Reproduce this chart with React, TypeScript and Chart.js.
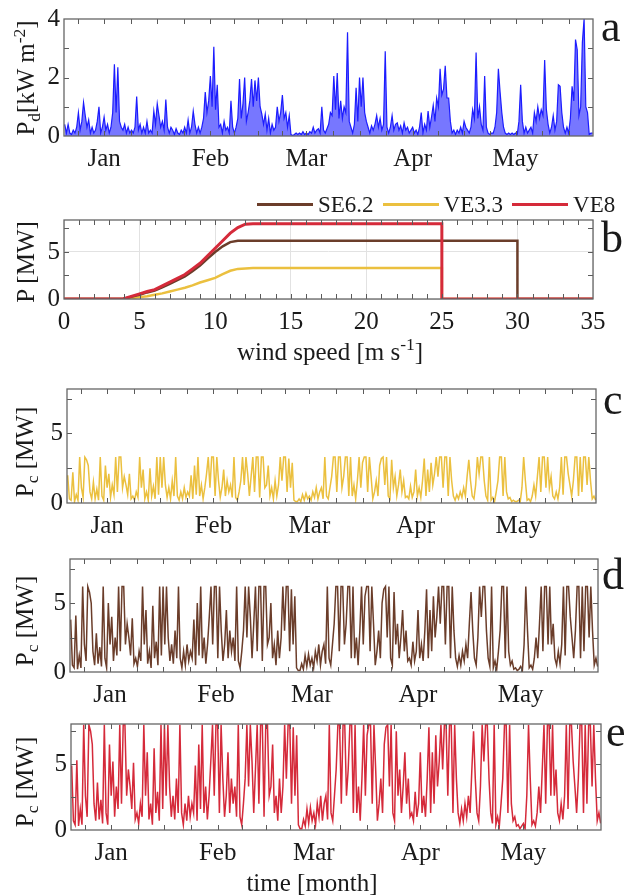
import React, { useEffect, useRef } from 'react';
import { Chart, registerables } from 'chart.js';

Chart.register(...registerables);

// ---------------- DATA ----------------
// time axis: days relative to 1 January, half-day resolution
const START_DAY = -11.5;
const STEP_DAY = 0.5;
const monthNames = ['Jan', 'Feb', 'Mar', 'Apr', 'May'];
const monthStarts = [0, 31, 59, 90, 120];
const monthEdges = [-31, 0, 31, 59, 90, 120, 151];

// panel a: wind power density Pd [kW m-2]
const pd = [
  0.4,0.1,0.4,0.1,0.05,0.2,0.1,0.3,0.8,0.2,0.5,1.15,0.7,0.3,0.55,0.1,0.3,0.1,0.2,0.5,
  1.0,0.1,0.3,0.65,0.2,0.4,0.1,0.3,0.8,2.45,0.8,2.35,0.5,0.3,0.2,0.4,0.1,0.3,0.1,0.2,
  0.1,0.3,1.35,0.2,0.4,0.1,0.3,0.1,0.5,0.1,0.2,0.1,0.85,0.4,1.1,0.7,0.3,0.5,0.2,1.25,
  0.3,0.1,0.3,0.2,0.05,0.25,0.1,0.05,0.2,0.1,0.3,0.1,0.55,0.1,0.3,0.85,0.4,0.1,0.3,0.1,
  0.3,0.6,1.5,0.8,1.2,2.05,1.0,3.05,0.9,1.75,0.3,0.4,0.1,0.5,0.2,0.3,0.1,1.2,0.3,0.1,
  0.3,0.6,1.95,0.6,1.1,2.0,0.5,0.8,1.2,1.95,1.0,1.9,1.2,2.0,1.0,0.75,0.4,0.75,0.2,0.6,
  0.1,0.4,0.2,0.3,1.0,0.5,0.8,1.4,0.6,0.8,0.3,0.7,0.05,0.02,0.05,0.1,0.05,0.1,0.05,0.15,
  0.05,0.1,0.05,0.15,0.1,0.3,0.1,0.2,0.25,0.1,1.0,0.2,0.1,0.25,0.4,0.8,0.7,2.05,0.9,2.15,
  0.6,1.2,0.6,1.0,0.8,3.55,0.5,0.3,0.1,0.4,1.65,0.5,2.0,1.0,2.0,0.8,0.5,0.3,0.1,0.35,
  0.2,0.4,0.7,0.3,0.6,0.2,0.4,2.9,0.3,0.1,0.3,0.7,0.2,0.4,0.45,0.2,0.35,0.1,0.45,0.2,
  0.3,0.1,0.2,0.3,0.1,0.2,0.05,0.3,0.8,0.1,0.4,0.2,0.85,0.3,0.65,1.05,0.5,1.3,1.0,2.3,
  1.4,1.6,2.4,1.3,1.3,0.5,0.1,0.2,0.05,0.2,0.1,0.3,0.1,0.5,0.3,0.2,0.1,0.3,0.9,0.6,
  2.85,0.6,1.0,0.4,0.2,2.05,0.3,0.1,0.05,0.1,0.1,0.3,0.8,2.3,1.5,0.8,0.3,0.1,0.05,0.1,
  0.05,0.1,0.05,0.1,0.05,0.5,1.75,0.5,0.1,0.3,0.1,0.2,0.3,0.1,0.8,0.5,1.0,0.6,0.9,0.7,
  2.6,0.9,0.4,0.1,0.3,0.7,0.2,0.5,1.75,1.7,0.8,0.3,0.1,0.3,0.1,0.6,1.7,1.2,3.3,2.95,
  0.7,1.0,3.2,4.0,1.0,0.8,0.05,0.1,0.1,
];

// panel c: VE3.3 power [MW]
const pcVE33 = [
  2.0,0.3,0.2,2.2,0.1,0.6,0.2,3.3,1.1,0.4,3.3,3.1,2.7,0.8,0.3,1.5,0.3,1.0,0.2,3.3,
  0.5,0.2,2.7,1.1,2.1,0.4,1.3,0.6,3.3,0.8,3.3,3.3,1.1,1.9,1.3,0.6,2.1,0.3,0.5,0.2,
  0.8,0.4,3.3,1.1,2.4,0.3,0.8,0.2,2.5,0.5,1.2,0.3,3.3,0.6,3.3,1.1,3.3,1.3,0.4,1.1,
  0.3,1.6,0.5,3.3,0.5,0.2,0.8,0.3,1.1,0.4,0.8,0.5,2.0,0.3,2.7,0.6,3.3,0.5,1.3,0.3,
  1.1,2.1,3.3,1.1,3.3,3.3,0.5,3.3,1.6,0.4,1.1,2.4,0.5,1.6,0.8,1.3,0.4,3.3,0.4,0.2,
  0.8,1.6,3.3,1.3,3.3,2.1,0.5,1.9,3.3,0.8,3.3,3.3,0.4,3.3,3.3,1.1,1.3,2.7,0.5,1.1,
  0.3,1.6,0.5,1.3,3.3,1.6,3.3,3.3,0.8,3.2,1.1,2.9,0.2,0.1,0.1,0.3,0.1,0.6,0.2,0.7,
  0.3,0.5,0.2,0.8,0.4,1.1,0.3,0.8,1.1,0.3,3.3,0.5,0.3,1.1,1.9,3.3,3.3,0.8,3.3,3.3,
  1.1,1.9,3.3,3.3,0.5,3.3,0.5,1.3,0.3,1.6,3.3,1.1,2.9,3.3,3.3,0.8,3.3,1.9,0.3,0.8,
  1.6,0.5,2.7,3.2,3.3,1.3,3.3,0.5,0.3,3.1,1.1,1.9,0.5,1.3,2.4,0.8,1.6,0.4,0.5,0.3,
  1.2,0.4,0.8,2.4,0.5,1.1,0.4,1.6,3.2,0.5,2.4,0.8,2.9,1.3,2.1,3.3,1.9,3.3,3.3,1.1,
  3.3,3.3,0.5,3.3,1.6,0.5,0.2,0.6,0.3,0.8,0.4,1.1,0.5,1.9,3.1,1.6,0.5,0.3,1.3,3.3,
  2.1,3.3,3.3,1.6,0.5,0.2,3.3,0.2,0.4,0.1,0.8,1.6,3.3,3.3,0.5,3.3,0.8,0.3,0.4,0.1,
  0.2,0.1,0.1,0.2,0.1,1.1,3.3,1.6,0.2,0.3,0.1,0.5,1.3,0.5,1.9,3.3,0.8,3.3,3.3,1.1,
  3.3,1.1,1.9,0.5,0.3,0.8,0.3,1.1,3.3,0.6,3.3,3.3,2.1,1.3,0.5,1.6,3.3,3.3,0.5,3.3,
  0.8,3.3,3.3,1.3,3.3,1.6,0.3,0.5,0.2,
];

// panel d: SE6.2 power [MW]
const pcSE62 = [
  3.8,0.5,0.3,4.1,0.2,1.2,0.3,6.2,2.0,0.8,6.2,5.8,5.0,1.5,0.5,2.8,0.6,1.8,0.4,6.2,
  1.0,0.3,5.0,2.0,4.0,0.8,2.5,1.2,6.2,1.5,6.2,6.2,2.0,3.5,2.5,1.2,3.9,0.6,1.0,0.4,
  1.5,0.8,6.2,2.0,4.5,0.6,1.5,0.3,4.8,1.0,2.2,0.5,6.2,1.2,6.2,2.0,6.2,2.5,0.8,2.0,
  0.6,3.0,1.0,6.2,1.0,0.3,1.5,0.5,2.0,0.8,1.5,1.0,3.8,0.5,5.0,1.2,6.2,1.0,2.5,0.6,
  2.0,4.0,6.2,2.0,6.2,6.2,1.0,6.2,3.0,0.8,2.0,4.5,1.0,3.0,1.5,2.5,0.8,6.2,0.8,0.3,
  1.5,3.0,6.2,2.5,6.2,4.0,1.0,3.5,6.2,1.5,6.2,6.2,0.8,6.2,6.2,2.0,2.5,5.0,1.0,2.0,
  0.5,3.0,1.0,2.5,6.2,3.0,6.2,6.2,1.5,6.0,2.0,5.5,0.3,0.1,0.1,0.6,0.2,1.2,0.4,1.3,
  0.5,1.0,0.3,1.5,0.8,2.0,0.5,1.5,2.0,0.6,6.2,1.0,0.5,2.0,3.5,6.2,6.2,1.5,6.2,6.2,
  2.0,3.5,6.2,6.2,1.0,6.2,1.0,2.5,0.5,3.0,6.2,2.0,5.5,6.2,6.2,1.5,6.2,3.5,0.5,1.5,
  3.0,1.0,5.0,6.0,6.2,2.5,6.2,1.0,0.5,5.8,2.0,3.5,1.0,2.5,4.5,1.5,3.0,0.8,1.0,0.5,
  2.2,0.8,1.5,4.5,1.0,2.0,0.8,3.0,6.0,1.0,4.5,1.5,5.5,2.5,4.0,6.2,3.5,6.2,6.2,2.0,
  6.2,6.2,1.0,6.2,3.0,1.0,0.4,1.2,0.5,1.5,0.8,2.0,1.0,3.5,5.8,3.0,1.0,0.5,2.5,6.2,
  4.0,6.2,6.2,3.0,1.0,0.4,6.2,0.3,0.8,0.2,1.5,3.0,6.2,6.2,1.0,6.2,1.5,0.5,0.8,0.2,
  0.3,0.1,0.2,0.4,0.1,2.0,6.2,3.0,0.3,0.5,0.2,1.0,2.5,1.0,3.5,6.2,1.5,6.2,6.2,2.0,
  6.2,2.0,3.5,1.0,0.5,1.5,0.6,2.0,6.2,1.2,6.2,6.2,4.0,2.5,1.0,3.0,6.2,6.2,1.0,6.2,
  1.5,6.2,6.2,2.5,6.2,3.0,0.5,1.0,0.4,
];

// panel e: VE8 power [MW]
const pcVE8 = [
  4.9,0.7,0.4,5.3,0.3,1.6,0.4,8.0,2.6,1.0,8.0,7.5,6.5,2.0,0.7,3.6,0.8,2.3,0.5,8.0,
  1.3,0.4,6.5,2.6,5.2,1.0,3.3,1.6,8.0,2.0,8.0,8.0,2.6,4.6,3.3,1.6,5.1,0.8,1.3,0.5,
  2.0,1.0,8.0,2.6,5.9,0.8,2.0,0.4,6.2,1.3,2.9,0.7,8.0,1.6,8.0,2.6,8.0,3.3,1.0,2.6,
  0.8,3.9,1.3,8.0,1.3,0.4,2.0,0.7,2.6,1.0,2.0,1.3,4.9,0.7,6.5,1.6,8.0,1.3,3.3,0.8,
  2.6,5.2,8.0,2.6,8.0,8.0,1.3,8.0,3.9,1.0,2.6,5.9,1.3,3.9,2.0,3.3,1.0,8.0,1.0,0.4,
  2.0,3.9,8.0,3.3,8.0,5.2,1.3,4.6,8.0,2.0,8.0,8.0,1.0,8.0,8.0,2.6,3.3,6.5,1.3,2.6,
  0.7,3.9,1.3,3.3,8.0,3.9,8.0,8.0,2.0,7.8,2.6,7.2,0.4,0.1,0.1,0.8,0.3,1.6,0.5,1.7,
  0.7,1.3,0.4,2.0,1.0,2.6,0.7,2.0,2.6,0.8,8.0,1.3,0.7,2.6,4.6,8.0,8.0,2.0,8.0,8.0,
  2.6,4.6,8.0,8.0,1.3,8.0,1.3,3.3,0.7,3.9,8.0,2.6,7.2,8.0,8.0,2.0,8.0,4.6,0.7,2.0,
  3.9,1.3,6.5,7.8,8.0,3.3,8.0,1.3,0.7,7.5,2.6,4.6,1.3,3.3,5.9,2.0,3.9,1.0,1.3,0.7,
  2.9,1.0,2.0,5.9,1.3,2.6,1.0,3.9,7.8,1.3,5.9,2.0,7.2,3.3,5.2,8.0,4.6,8.0,8.0,2.6,
  8.0,8.0,1.3,8.0,3.9,1.3,0.5,1.6,0.7,2.0,1.0,2.6,1.3,4.6,7.5,3.9,1.3,0.7,3.3,8.0,
  5.2,8.0,8.0,3.9,1.3,0.5,8.0,0.4,1.0,0.3,2.0,3.9,8.0,8.0,1.3,8.0,2.0,0.7,1.0,0.3,
  0.4,0.1,0.3,0.5,0.1,2.6,8.0,3.9,0.4,0.7,0.3,1.3,3.3,1.3,4.6,8.0,2.0,8.0,8.0,2.6,
  8.0,2.6,4.6,1.3,0.7,2.0,0.8,2.6,8.0,1.6,8.0,8.0,5.2,3.3,1.3,3.9,8.0,8.0,1.3,8.0,
  2.0,8.0,8.0,3.3,8.0,3.9,0.7,1.3,0.5,
];

// panel b: power curves
const turbineNames = ['SE6.2', 'VE3.3', 'VE8'];
const windSpeed = [0, 3.9, 4.5, 5, 5.5, 6, 6.5, 7, 7.5, 8, 8.5, 9, 9.5, 10, 10.5, 11, 11.5, 12, 12.5, 13, 25, 25, 30, 30, 35];
const curveSE62 = [0, 0, 0.25, 0.45, 0.7, 0.9, 1.25, 1.6, 2.0, 2.4, 2.95, 3.55, 4.3, 5.0, 5.6, 6.05, 6.2, 6.2, 6.2, 6.2, 6.2, 6.2, 6.2, 0, 0];
const curveVE33 = [0, 0, 0.1, 0.2, 0.3, 0.45, 0.6, 0.8, 1.0, 1.2, 1.45, 1.75, 2.0, 2.25, 2.65, 3.0, 3.2, 3.25, 3.3, 3.3, 3.3, 0, 0, 0, 0];
const curveVE8 = [0, 0, 0.3, 0.55, 0.8, 1.0, 1.4, 1.8, 2.2, 2.6, 3.2, 3.8, 4.6, 5.4, 6.2, 7.0, 7.6, 7.95, 8, 8, 8, 0, 0, 0, 0];
const windTickLabels = [0, 5, 10, 15, 20, 25, 30, 35];

// ---------------- STYLE ----------------
const W = 628;
const XH = 36;
const FONT = "'Liberation Serif', 'Times New Roman', Times, serif";
const TXT = '#1a1a1a';
const BLUE = '#1c1cff';
const YELLOW = '#ebc03f';
const BROWN = '#6b3d2a';
const RED = '#d52a3a';
const X_MIN = -11.7;
const X_MAX = 142.6;

const days = pd.map((_, i) => START_DAY + i * STEP_DAY);
const timeMinorTicks: number[] = [];
for (let m = 0; m < monthEdges.length - 1; m++) {
  const s = monthEdges[m];
  const len = monthEdges[m + 1] - s;
  for (let k = 0; k < 4; k++) timeMinorTicks.push(s + (k * len) / 4);
}
const windMinorTicks: number[] = [];
for (let v = 0; v <= 35; v++) windMinorTicks.push(v);

type Area = { left: number; right: number; top: number; bottom: number };
type Panel = { canvasTop: number; canvasHeight: number; area: Area };

const panels: Panel[] = [
  { canvasTop: 0, canvasHeight: 180, area: { left: 64, right: 593, top: 15, bottom: 136 } },
  { canvasTop: 180, canvasHeight: 160, area: { left: 64, right: 593, top: 220, bottom: 299 } },
  { canvasTop: 370, canvasHeight: 170, area: { left: 67, right: 596, top: 388, bottom: 503 } },
  { canvasTop: 540, canvasHeight: 170, area: { left: 70, right: 598, top: 557, bottom: 672 } },
  { canvasTop: 705, canvasHeight: 165, area: { left: 71, right: 601, top: 724, bottom: 830 } },
];

const tickFont = { family: FONT, size: 25 };

const framePlugin = {
  id: 'frame',
  afterDatasetsDraw(chart: any, _args: any, opts: any) {
    const { ctx, chartArea } = chart;
    const { left, right, top, bottom } = chartArea;
    const xs = chart.scales.x;
    const ys = chart.scales.y;
    ctx.save();
    ctx.strokeStyle = '#5a5a5a';
    ctx.lineWidth = 1;
    ctx.beginPath();
    for (const v of opts.xTicks || []) {
      const px = Math.round(xs.getPixelForValue(v)) + 0.5;
      if (px <= left + 1 || px >= right - 1) continue;
      ctx.moveTo(px, bottom);
      ctx.lineTo(px, bottom - 5);
      ctx.moveTo(px, top);
      ctx.lineTo(px, top + 5);
    }
    for (const v of opts.yTicks || []) {
      const py = Math.round(ys.getPixelForValue(v)) + 0.5;
      if (py <= top + 1 || py >= bottom - 1) continue;
      ctx.moveTo(left, py);
      ctx.lineTo(left + 5, py);
      ctx.moveTo(right, py);
      ctx.lineTo(right - 5, py);
    }
    ctx.stroke();
    ctx.lineWidth = 1.3;
    ctx.strokeStyle = '#666';
    ctx.strokeRect(left, top, right - left, bottom - top);
    ctx.restore();
  },
};

function layoutFor(p: Panel) {
  return {
    padding: {
      left: 0,
      right: W - p.area.right,
      top: p.area.top - p.canvasTop,
      bottom: p.canvasTop + p.canvasHeight - p.area.bottom - XH,
    },
  };
}

function hexToRgba(hex: string, a: number) {
  const n = parseInt(hex.slice(1), 16);
  return `rgba(${(n >> 16) & 255}, ${(n >> 8) & 255}, ${n & 255}, ${a})`;
}

function timeConfig(
  values: number[],
  color: string,
  fillAlpha: number,
  lineWidth: number,
  yMax: number,
  yLabels: number[],
  yMinor: number[],
  p: Panel
): any {
  return {
    type: 'line',
    data: {
      datasets: [
        {
          data: days.map((d, i) => ({ x: d, y: values[i] })),
          borderColor: color,
          backgroundColor: hexToRgba(color, fillAlpha),
          borderWidth: lineWidth,
          pointRadius: 0,
          tension: 0,
          fill: fillAlpha > 0 ? 'origin' : false,
        },
      ],
    },
    options: {
      animation: false,
      responsive: false,
      devicePixelRatio: 1,
      events: [],
      layout: layoutFor(p),
      plugins: {
        legend: { display: false },
        tooltip: { enabled: false },
        frame: { xTicks: timeMinorTicks, yTicks: yMinor },
      },
      scales: {
        x: {
          type: 'linear',
          min: X_MIN,
          max: X_MAX,
          afterBuildTicks: (s: any) => {
            s.ticks = monthStarts.map((v) => ({ value: v }));
          },
          ticks: {
            callback: (v: number) => {
              const i = monthStarts.indexOf(v);
              return i >= 0 ? monthNames[i] : '';
            },
            font: tickFont,
            color: TXT,
            padding: 8,
            maxRotation: 0,
            autoSkip: false,
          },
          grid: { display: false, drawTicks: false },
          border: { display: false },
          afterFit: (s: any) => {
            s.height = XH;
          },
        },
        y: {
          type: 'linear',
          min: 0,
          max: yMax,
          afterBuildTicks: (s: any) => {
            s.ticks = yLabels.map((v) => ({ value: v }));
          },
          ticks: { font: tickFont, color: TXT, padding: 4 },
          grid: { display: false, drawTicks: false },
          border: { display: false },
          afterFit: (s: any) => {
            s.width = p.area.left;
          },
        },
      },
    },
    plugins: [framePlugin],
  };
}

function curveConfig(p: Panel): any {
  const mk = (vals: number[]) => windSpeed.map((x, i) => ({ x, y: vals[i] }));
  return {
    type: 'line',
    data: {
      datasets: [
        { label: turbineNames[2], data: mk(curveVE8), borderColor: RED, borderWidth: 3, pointRadius: 0, order: 0 },
        { label: turbineNames[0], data: mk(curveSE62), borderColor: BROWN, borderWidth: 2.5, pointRadius: 0, order: 1 },
        { label: turbineNames[1], data: mk(curveVE33), borderColor: YELLOW, borderWidth: 2.5, pointRadius: 0, order: 2 },
      ],
    },
    options: {
      animation: false,
      responsive: false,
      devicePixelRatio: 1,
      events: [],
      layout: layoutFor(p),
      plugins: {
        legend: { display: false },
        tooltip: { enabled: false },
        frame: { xTicks: windMinorTicks, yTicks: [2.5, 5, 7.5] },
      },
      scales: {
        x: {
          type: 'linear',
          min: 0,
          max: 35,
          afterBuildTicks: (s: any) => {
            s.ticks = windTickLabels.map((v) => ({ value: v }));
          },
          ticks: { font: tickFont, color: TXT, padding: 8, maxRotation: 0, autoSkip: false },
          grid: { display: true, drawTicks: false, color: '#e2e2e2', lineWidth: 1 },
          border: { display: false },
          afterFit: (s: any) => {
            s.height = XH;
          },
        },
        y: {
          type: 'linear',
          min: 0,
          max: 8.4,
          afterBuildTicks: (s: any) => {
            s.ticks = [0, 5].map((v) => ({ value: v }));
          },
          ticks: { font: tickFont, color: TXT, padding: 4 },
          grid: { display: true, drawTicks: false, color: '#e2e2e2', lineWidth: 1 },
          border: { display: false },
          afterFit: (s: any) => {
            s.width = p.area.left;
          },
        },
      },
    },
    plugins: [framePlugin],
  };
}

const textStyle: React.CSSProperties = {
  position: 'absolute',
  fontFamily: FONT,
  fontSize: 25,
  color: TXT,
  whiteSpace: 'nowrap',
  lineHeight: 1,
};
const subStyle: React.CSSProperties = { fontSize: '0.7em', verticalAlign: '-0.3em' };
const supStyle: React.CSSProperties = { fontSize: '0.7em', verticalAlign: '0.55em' };

function YTitle({ x, y, children }: { x: number; y: number; children: React.ReactNode }) {
  return (
    <div style={{ ...textStyle, left: x, top: y, transform: 'translate(-50%, -50%) rotate(-90deg)' }}>{children}</div>
  );
}

function Letter({ x, top, ch }: { x: number; top: number; ch: string }) {
  return <div style={{ ...textStyle, fontSize: 44, left: x, top }}>{ch}</div>;
}

export default function App() {
  const refs = [
    useRef<HTMLCanvasElement>(null),
    useRef<HTMLCanvasElement>(null),
    useRef<HTMLCanvasElement>(null),
    useRef<HTMLCanvasElement>(null),
    useRef<HTMLCanvasElement>(null),
  ];

  useEffect(() => {
    const configs = [
      timeConfig(pd, BLUE, 0.6, 1.2, 4, [0, 2, 4], [1, 2, 3], panels[0]),
      curveConfig(panels[1]),
      timeConfig(pcVE33, YELLOW, 0, 1.5, 8.2, [0, 5], [2.5, 5, 7.5], panels[2]),
      timeConfig(pcSE62, BROWN, 0, 1.5, 8.2, [0, 5], [2.5, 5, 7.5], panels[3]),
      timeConfig(pcVE8, RED, 0, 1.5, 8.05, [0, 5], [2.5, 5, 7.5], panels[4]),
    ];
    const charts = configs.map((cfg, i) => new Chart(refs[i].current as HTMLCanvasElement, cfg));
    return () => charts.forEach((c) => c.destroy());
  }, []);

  const legendColors = [BROWN, YELLOW, RED];

  return (
    <div style={{ position: 'absolute', left: 0, top: 0, width: W, height: 896, background: '#fff', overflow: 'hidden' }}>
      {panels.map((p, i) => (
        <canvas
          key={i}
          ref={refs[i]}
          width={W}
          height={p.canvasHeight}
          style={{ position: 'absolute', left: 0, top: p.canvasTop, width: W, height: p.canvasHeight }}
        />
      ))}

      <YTitle x={27} y={78}>
        P<span style={subStyle}>d</span>[kW m<span style={supStyle}>-2</span>]
      </YTitle>
      <YTitle x={25} y={262}>P [MW]</YTitle>
      <YTitle x={27} y={452}>
        P<span style={subStyle}>c</span> [MW]
      </YTitle>
      <YTitle x={27} y={621}>
        P<span style={subStyle}>c</span> [MW]
      </YTitle>
      <YTitle x={27} y={782}>
        P<span style={subStyle}>c</span> [MW]
      </YTitle>

      <div style={{ ...textStyle, left: 330, top: 350, transform: 'translate(-50%, -50%)' }}>
        wind speed [m s<span style={supStyle}>-1</span>]
      </div>
      <div style={{ ...textStyle, left: 312, top: 882, transform: 'translate(-50%, -50%)' }}>time [month]</div>

      <div style={{ position: 'absolute', left: 257, top: 192, height: 24, display: 'flex', alignItems: 'center' }}>
        {turbineNames.map((n, i) => (
          <div key={n} style={{ display: 'flex', alignItems: 'center', marginRight: 9 }}>
            <div style={{ width: 56, height: 3, background: legendColors[i] }} />
            <span style={{ fontFamily: FONT, fontSize: 23, color: TXT, marginLeft: 5, lineHeight: 1 }}>{n}</span>
          </div>
        ))}
      </div>

      <Letter x={601} top={5} ch="a" />
      <Letter x={601} top={216} ch="b" />
      <Letter x={603} top={378} ch="c" />
      <Letter x={602} top={553} ch="d" />
      <Letter x={606} top={710} ch="e" />
    </div>
  );
}
